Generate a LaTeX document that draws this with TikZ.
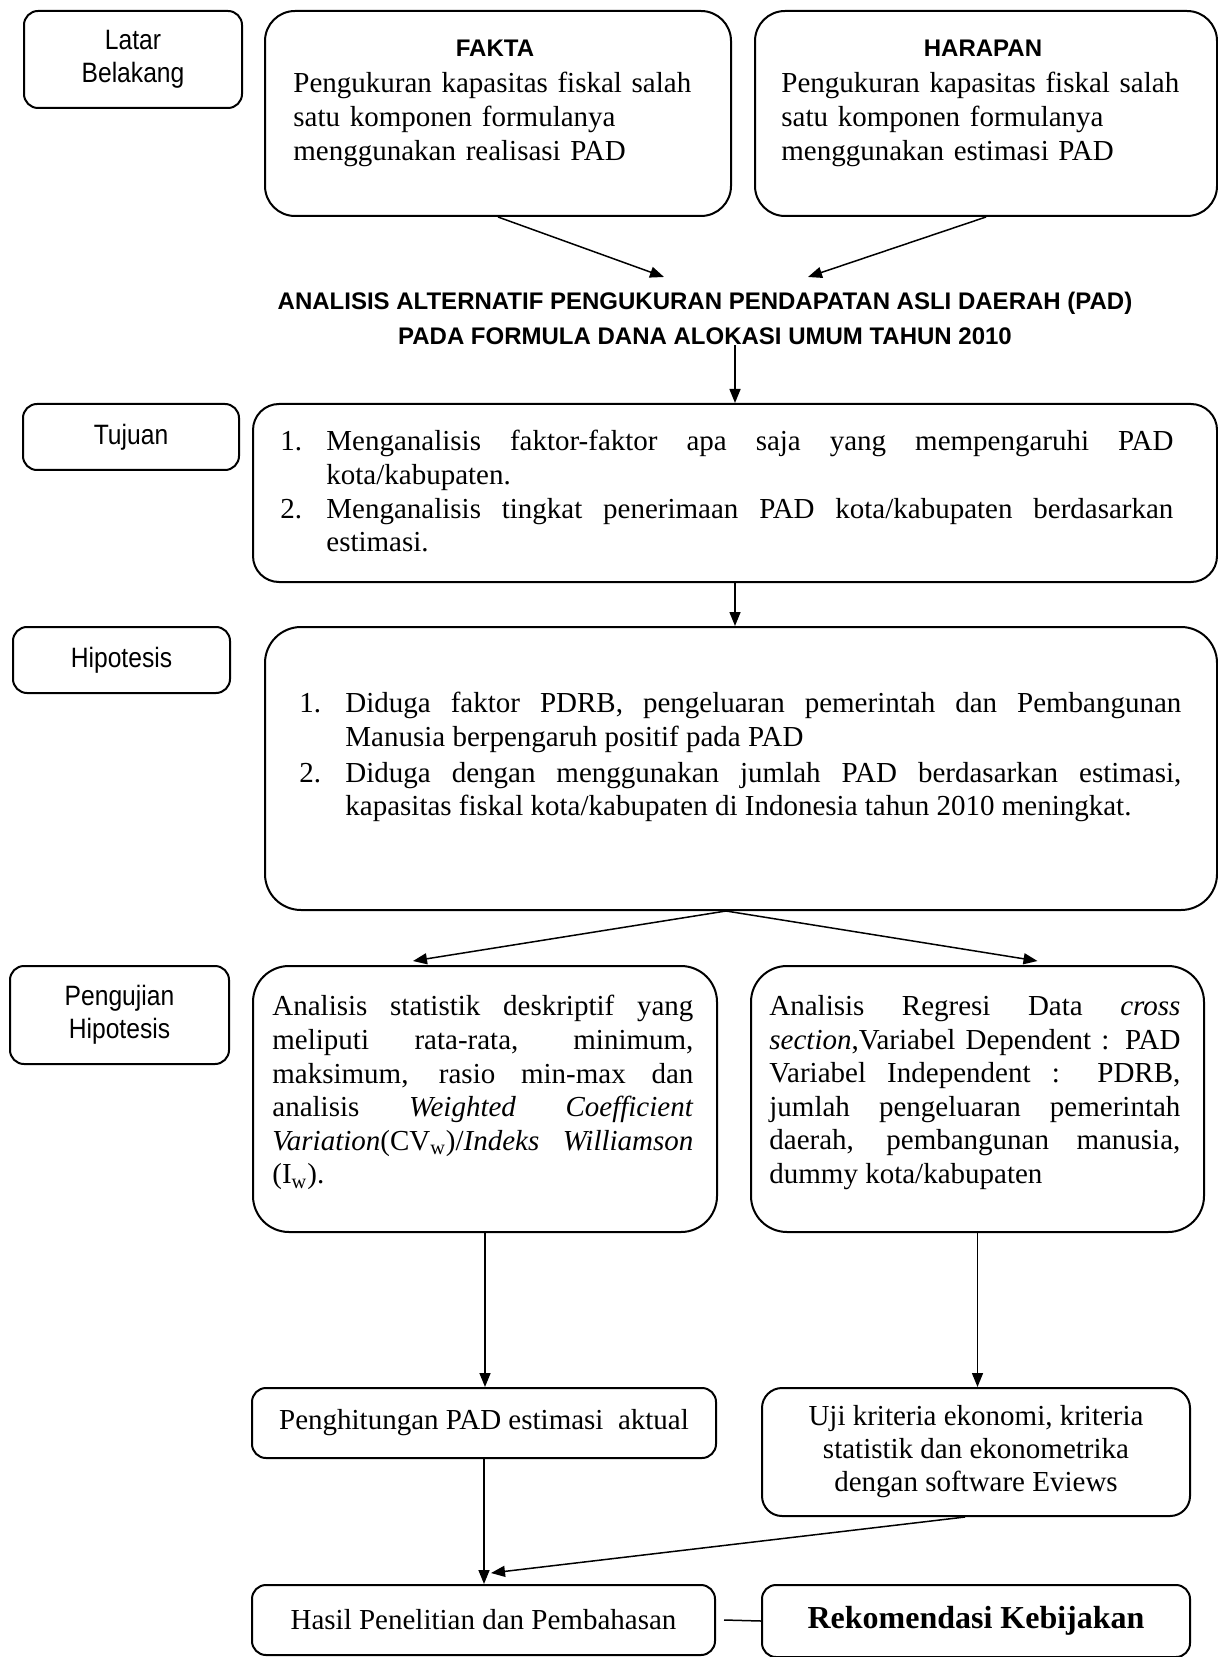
\documentclass[tikz,border=0pt]{standalone}
\usepackage{fontspec}
\setmainfont{Liberation Serif}
\newfontfamily\hurufjudul{Liberation Sans}
\newfontfamily\hurufsempit[FakeStretch=0.88]{Liberation Sans}
\usetikzlibrary{arrows.meta}
\newcommand\butir[2]{\noindent\hangindent=23pt\hangafter=1\makebox[23pt][l]{#1}#2\par}
\tolerance=9999
\hyphenpenalty=10000
\exhyphenpenalty=10000

\begin{document}
\begin{tikzpicture}[x=0.5pt, y=-0.5pt,
	kotak/.style={draw, line width=1pt, rounded corners=#1, anchor=north west, inner sep=0pt},
	kotak/.default=8pt,
	kotakket/.style={kotak=7pt, align=center, font=\hurufsempit\fontsize{14}{16.5}\selectfont},
	teksisi/.style={anchor=north west, inner sep=0pt, align=justify, font=\fontsize{14.5}{16.8}\selectfont},
	judulsans/.style={inner sep=0pt, align=center, font=\hurufjudul\bfseries\fontsize{12}{17.5}\selectfont},
	panah/.style={-{Triangle[length=7pt,width=5.5pt]}, line width=0.75pt}]
	\useasboundingbox (0,0) rectangle (1218,1657);

	\node[kotakket, minimum width=109pt, minimum height=48.5pt] (latar) at (23,10) {Latar\\Belakang};
	\node[kotak=15pt, minimum width=233pt, minimum height=102.5pt] (fakta) at (264,10) {};
	\node[kotak=15pt, minimum width=231pt, minimum height=102.5pt] (harapan) at (754,10) {};
	\node[judulsans, anchor=base] (faktajudul) at (495,57) {FAKTA};
	\node[judulsans, anchor=base] (harapanjudul) at (983,57) {HARAPAN};
	\node[teksisi, align=left, text width=215pt] (faktateks) at (293,72) {Pengukuran kapasitas fiskal salah\\satu komponen formulanya\\menggunakan realisasi PAD};
	\node[teksisi, align=left, text width=215pt] (harapanteks) at (781,72) {Pengukuran kapasitas fiskal salah\\satu komponen formulanya\\menggunakan estimasi PAD};

	\node[judulsans, anchor=north] (judul) at (705,292) {ANALISIS ALTERNATIF PENGUKURAN PENDAPATAN ASLI DAERAH (PAD)\\PADA FORMULA DANA ALOKASI UMUM TAHUN 2010};
	\coordinate (ujungfakta) at (664,277);
	\coordinate (ujungharapan) at (808,277);

	\node[kotakket, minimum width=108pt, minimum height=33pt] (tujuanket) at (22,403) {Tujuan};
	\node[kotak=13pt, minimum width=482pt, minimum height=89pt] (tujuan) at (252,403) {};
	\node[teksisi, text width=446.5pt] (tujuanteks) at (280,430) {%
		\butir{1.}{Menganalisis faktor-faktor apa saja yang mempengaruhi PAD\linebreak kota/kabupaten.}
		\butir{2.}{Menganalisis tingkat penerimaan PAD kota/kabupaten berdasarkan\linebreak estimasi.}};

	\node[kotakket, minimum width=108.5pt, minimum height=33pt] (hipotesisket) at (12,626) {Hipotesis};
	\node[kotak=18pt, minimum width=476pt, minimum height=141.5pt] (hipotesis) at (264,626) {};
	\node[teksisi, text width=441pt] (hipotesisteks) at (299,692) {%
		\butir{1.}{Diduga faktor PDRB, pengeluaran pemerintah dan Pembangunan\linebreak Manusia berpengaruh positif pada PAD}
		\vspace{1pt}
		\butir{2.}{Diduga dengan menggunakan jumlah PAD berdasarkan estimasi,\linebreak kapasitas fiskal  kota/kabupaten di Indonesia tahun 2010  meningkat.}};

	\node[kotakket, minimum width=109.5pt, minimum height=49pt] (pengujianket) at (9,965) {Pengujian\\Hipotesis};
	\node[kotak=18pt, minimum width=232pt, minimum height=133pt] (kiri) at (252,965) {};
	\node[kotak=18pt, minimum width=226.5pt, minimum height=133pt] (kanan) at (750,965) {};
	\node[teksisi, text width=210.5pt] (kiriteks) at (272,995) {Analisis statistik deskriptif yang\linebreak meliputi rata-rata, minimum,\linebreak maksimum, rasio min-max dan\linebreak analisis \textit{Weighted Coefficient}\linebreak \textit{Variation}(CV\textsubscript{w})/\textit{Indeks Williamson}\linebreak (I\textsubscript{w}).};
	\node[teksisi, text width=205.5pt] (kananteks) at (769,995) {Analisis Regresi Data \textit{cross}\linebreak \textit{section},Variabel Dependent : PAD\linebreak Variabel Independent :  PDRB,\linebreak jumlah pengeluaran pemerintah\linebreak daerah, pembangunan manusia,\linebreak dummy kota/kabupaten};

	\node[kotak=7pt, minimum width=232pt, minimum height=35pt, font=\fontsize{14.5}{16.5}\selectfont] (hitung) at (251,1387) {Penghitungan PAD estimasi \ aktual};
	\node[kotak=10pt, minimum width=214pt, minimum height=64pt, align=center, font=\fontsize{14.5}{16.5}\selectfont] (uji) at (761,1387) {Uji kriteria ekonomi, kriteria\\statistik dan ekonometrika\\dengan software Eviews};
	\node[kotak=7pt, minimum width=231.5pt, minimum height=35pt, font=\fontsize{14.5}{16.5}\selectfont] (hasil) at (251,1584) {Hasil Penelitian dan Pembahasan};
	\node[kotak=7pt, minimum width=214pt, minimum height=36pt, font=\fontsize{16}{18}\selectfont\bfseries] (rekomendasi) at (761,1584) {Rekomendasi Kebijakan};

	\draw[panah] (fakta.south) -- (ujungfakta);
	\draw[panah] (harapan.south) -- (ujungharapan);
	\draw[panah] (judul.south -| tujuan.north) -- (tujuan.north);
	\draw[panah] (tujuan.south) -- (tujuan.south |- hipotesis.north);
	\draw[panah] ([xshift=-7.5pt]hipotesis.south) -- ([xshift=-36pt,yshift=2pt]kiri.north);
	\draw[panah] ([xshift=-7.5pt]hipotesis.south) -- ([xshift=30pt,yshift=2pt]kanan.north);
	\draw[panah] (kiri.south) -- (kiri.south |- hitung.north);
	\draw[panah] (kanan.south) -- (kanan.south |- uji.north);
	\draw[panah] (hitung.south) -- (hitung.south |- hasil.north);
	\draw[panah] ([xshift=-5.5pt]uji.south) -- ([xshift=3.75pt,yshift=5.5pt]hasil.north);
	\draw[line width=0.75pt] ([xshift=4pt]hasil.east) -- (rekomendasi.west);
\end{tikzpicture}
\end{document}
